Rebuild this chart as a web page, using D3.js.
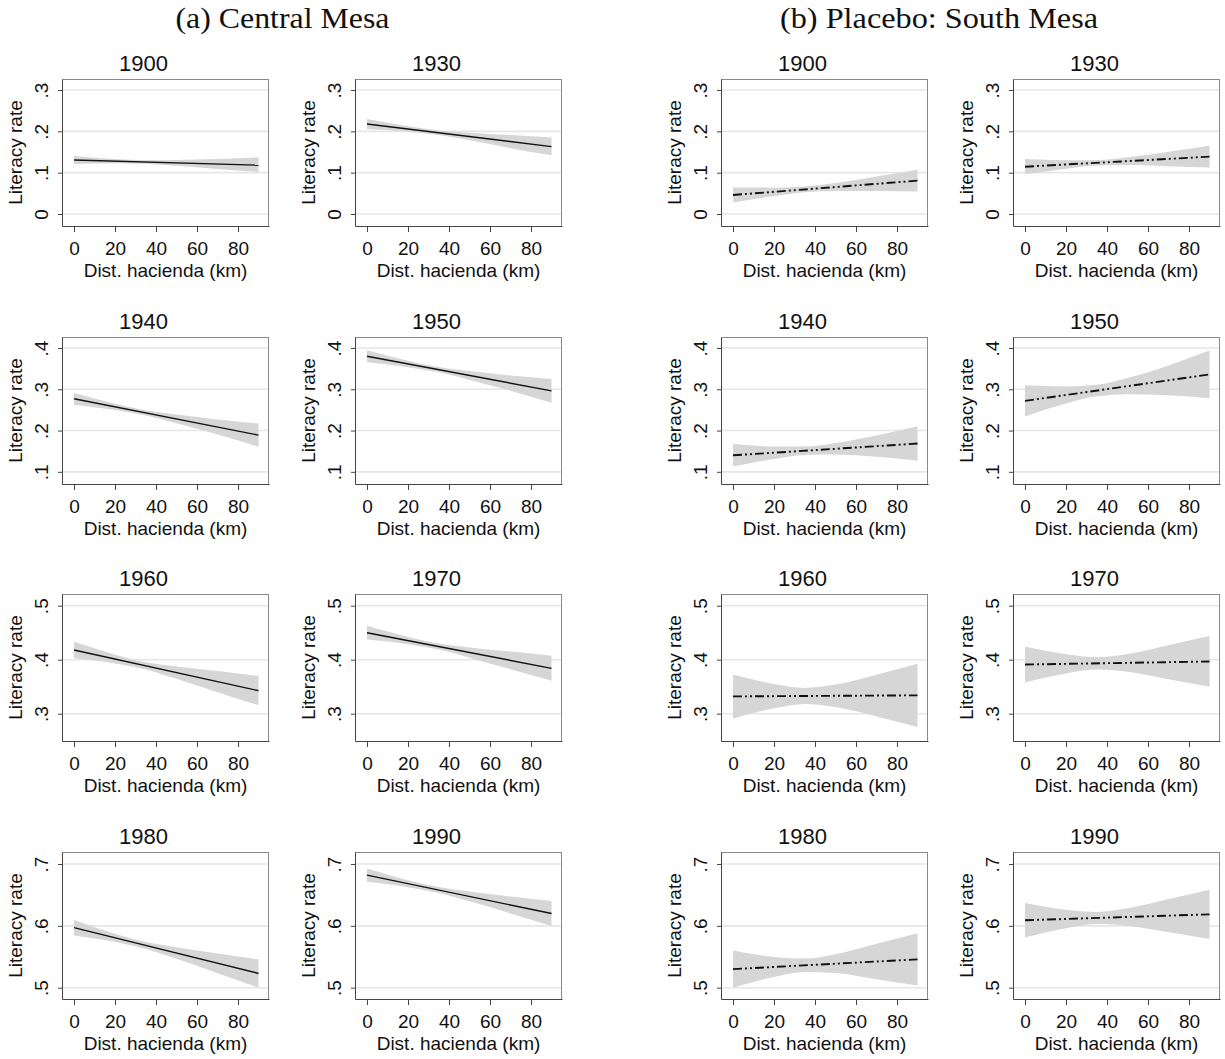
<!DOCTYPE html>
<html><head><meta charset="utf-8">
<script src="https://cdn.jsdelivr.net/npm/d3@7"></script>
<style>body{margin:0;background:#fff}</style>
</head><body><svg id="c" width="1225" height="1059"></svg>
<script>
// ---------- data ----------
const years = [1900, 1930, 1940, 1950, 1960, 1970, 1980, 1990];
const groupTitles = ["(a) Central Mesa", "(b) Placebo: South Mesa"];
const xTitle = "Dist. hacienda (km)";
const yTitle = "Literacy rate";
const xTicks = [0, 20, 40, 60, 80];
const rowTicks = [[0, .1, .2, .3], [.1, .2, .3, .4], [.3, .4, .5], [.5, .6, .7]];
const rowRanges = [[-0.029, 0.3266], [0.0705, 0.4267], [0.2494, 0.5217], [0.4817, 0.7194]];
const xRange = [-5.85, 95.1];
const fitX = [0, 90];
const bandX = [0, 20, 35, 50, 70, 90];

// Central Mesa: fitted line at x=0 and x=90, CI upper/lower at bandX
const centralFit = [
  [.1307, .118], [.2178, .163], [.277, .189], [.380, .2963],
  [.418, .3426], [.450, .384], [.597, .523], [.682, .620]
];
const centralUpper = [
  [.1402, .1329, .1300, .1306, .1329, .1370],
  [.2300, .2122, .2020, .1966, .1911, .1850],
  [.2910, .2650, .2491, .2387, .2268, .2170],
  [.3945, .3691, .3538, .3442, .3333, .3251],
  [.4335, .4094, .3955, .3876, .3791, .3696],
  [.4628, .4421, .4299, .4228, .4150, .4072],
  [.6095, .5872, .5737, .5652, .5553, .5459],
  [.6928, .6739, .6627, .6556, .6475, .6403]
];
const centralLower = [
  [.1212, .1229, .1216, .1166, .1087, .1016],
  [.2050, .1990, .1910, .1782, .1593, .1420],
  [.2627, .2498, .2365, .2175, .1904, .1610],
  [.3655, .3537, .3410, .3228, .2965, .2675],
  [.4025, .3930, .3819, .3646, .3397, .3156],
  [.4372, .4285, .4187, .4038, .3824, .3608],
  [.5845, .5740, .5627, .5466, .5235, .5001],
  [.6712, .6625, .6531, .6396, .6201, .5997]
];
// Placebo: South Mesa
const southFit = [
  [.046, .0807], [.1145, .1387], [.140, .1685], [.272, .336],
  [.332, .334], [.391, .3967], [.530, .5458], [.609, .6186]
];
const southUpper = [
  [.0643, .0638, .0663, .0748, .0905, .1072],
  [.1330, .1301, .1307, .1375, .1509, .1650],
  [.1672, .1613, .1612, .1699, .1881, .2104],
  [.3099, .3070, .3109, .3273, .3578, .3937],
  [.3728, .3549, .3476, .3539, .3723, .3927],
  [.4243, .4101, .4046, .4107, .4269, .4437],
  [.5601, .5497, .5470, .5540, .5710, .5882],
  [.6370, .6261, .6225, .6283, .6433, .6583]
];
const southLower = [
  [.0277, .0436, .0527, .0558, .0555, .0542],
  [.0960, .1097, .1171, .1183, .1157, .1124],
  [.1128, .1313, .1410, .1417, .1363, .1266],
  [.2341, .2654, .2829, .2879, .2858, .2783],
  [.2912, .3099, .3180, .3123, .2949, .2753],
  [.3577, .3745, .3818, .3777, .3639, .3497],
  [.4999, .5173, .5252, .5236, .5136, .5034],
  [.5810, .5961, .6029, .6003, .5897, .5789]
];

// ---------- layout ----------
const svg = d3.select("#c");
const colLeft = [62, 355, 721, 1013];
const rowTop = [79, 337, 594, 852];
const W = 207, H = 147;
const SANS = "'Liberation Sans', Arial, sans-serif";
const TXT = "#111";

const groups = [
  {fit: centralFit, up: centralUpper, lo: centralLower, dash: null, w: 1.4},
  {fit: southFit, up: southUpper, lo: southLower, dash: "9,3,2,3,2,3", w: 1.9}
];

// group headers
[282.5, 939].forEach((cx, g) => {
  svg.append("text").attr("x", cx).attr("y", 28)
    .attr("text-anchor", "middle")
    .attr("font-family", "'Liberation Serif', 'DejaVu Serif', serif")
    .attr("font-size", 30).attr("fill", TXT)
    .attr("textLength", g === 0 ? 214 : 318).attr("lengthAdjust", "spacingAndGlyphs")
    .text(groupTitles[g]);
});

const fmtY = t => t === 0 ? "0" : d3.format(".1f")(t).replace(/^0/, "");

groups.forEach((G, g) => {
  years.forEach((yr, i) => {
    const row = Math.floor(i / 2), col = g * 2 + (i % 2);
    const L = colLeft[col], T = rowTop[row];
    const x = d3.scaleLinear().domain(xRange).range([0, W]);
    const y = d3.scaleLinear().domain(rowRanges[row]).range([H, 0]);
    const p = svg.append("g").attr("transform", `translate(${L},${T})`);

    // grid lines
    p.selectAll("line.grid").data(rowTicks[row]).join("line")
      .attr("class", "grid")
      .attr("x1", 0).attr("x2", W)
      .attr("y1", d => y(d)).attr("y2", d => y(d))
      .attr("stroke", "#e6e6e6").attr("stroke-width", 1.6);

    // CI band
    const area = d3.area()
      .x((d, k) => x(bandX[k]))
      .y0((d, k) => y(G.lo[i][k]))
      .y1((d, k) => y(G.up[i][k]))
      .curve(d3.curveMonotoneX);
    p.append("path").datum(bandX).attr("d", area)
      .attr("fill", "#d6d6d6").attr("stroke", "none");

    // fit line
    const line = d3.line().x((d, k) => x(fitX[k])).y(d => y(d));
    const lp = p.append("path").datum(G.fit[i]).attr("d", line)
      .attr("fill", "none").attr("stroke", "#111").attr("stroke-width", G.w);
    if (G.dash) lp.attr("stroke-dasharray", G.dash);

    // frame top/right
    p.append("line").attr("x1", 0).attr("x2", W).attr("y1", 0.5).attr("y2", 0.5)
      .attr("stroke", "#8a8a8a").attr("stroke-width", 1);
    p.append("line").attr("x1", W - 0.5).attr("x2", W - 0.5).attr("y1", 0).attr("y2", H)
      .attr("stroke", "#8a8a8a").attr("stroke-width", 1);

    // y axis
    const ya = p.append("g").call(
      d3.axisLeft(y).tickValues(rowTicks[row]).tickFormat(fmtY).tickSize(4).tickSizeOuter(0));
    ya.select(".domain").attr("stroke", "#444");
    ya.selectAll(".tick line").attr("stroke", "#444");
    ya.selectAll("text")
      .attr("x", null).attr("dy", null).attr("y", null)
      .attr("text-anchor", "middle")
      .attr("transform", "translate(-14,0) rotate(-90)")
      .attr("font-family", SANS).attr("font-size", 19).attr("fill", TXT);

    // x axis
    const xa = p.append("g").attr("transform", `translate(0,${H})`).call(
      d3.axisBottom(x).tickValues(xTicks).tickSize(6).tickSizeOuter(0));
    xa.select(".domain").attr("stroke", "#444");
    xa.selectAll(".tick line").attr("stroke", "#444");
    xa.selectAll("text")
      .attr("dy", null).attr("y", 29)
      .attr("font-family", SANS).attr("font-size", 19).attr("fill", TXT);

    // titles
    p.append("text").attr("x", 81.5).attr("y", -8).attr("text-anchor", "middle")
      .attr("font-family", SANS).attr("font-size", 22).attr("fill", TXT).text(yr);
    p.append("text").attr("x", W / 2).attr("y", H + 51).attr("text-anchor", "middle")
      .attr("font-family", SANS).attr("font-size", 19).attr("fill", TXT).text(xTitle);
    p.append("text").attr("transform", `translate(-40,${H / 2}) rotate(-90)`)
      .attr("text-anchor", "middle")
      .attr("font-family", SANS).attr("font-size", 19).attr("fill", TXT).text(yTitle);
  });
});
</script></body></html>
